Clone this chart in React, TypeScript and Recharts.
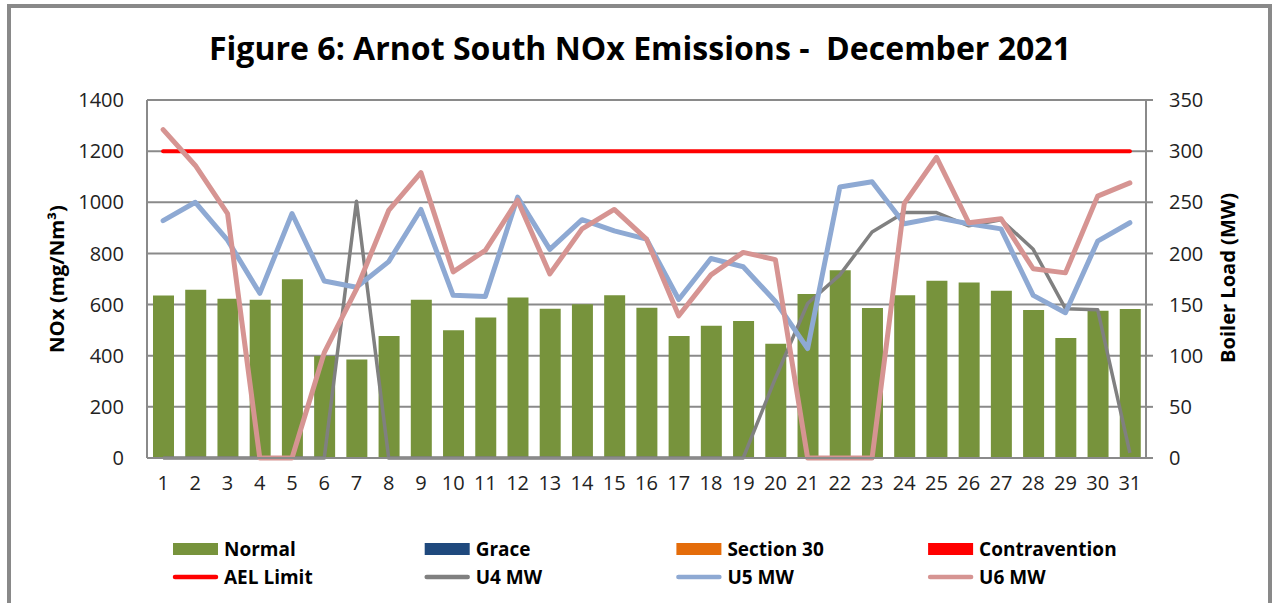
import { Bar, CartesianGrid, ComposedChart, Line, XAxis, YAxis } from "recharts";

const days = [1, 2, 3, 4, 5, 6, 7, 8, 9, 10, 11, 12, 13, 14, 15, 16, 17, 18, 19, 20, 21, 22, 23, 24, 25, 26, 27, 28, 29, 30, 31];

// NOx, mg/Nm3 (left axis)
const normal = [635, 658, 623, 619, 699, 399, 385, 477, 619, 500, 549, 628, 584, 601, 636, 588, 477, 517, 536, 447, 641, 734, 587, 636, 693, 686, 654, 579, 469, 576, 583];
const grace = [0, 0, 0, 0, 0, 0, 0, 0, 0, 0, 0, 0, 0, 0, 0, 0, 0, 0, 0, 0, 0, 0, 0, 0, 0, 0, 0, 0, 0, 0, 0];
const section30 = [0, 0, 0, 0, 0, 0, 0, 0, 0, 0, 0, 0, 0, 0, 0, 0, 0, 0, 0, 0, 0, 0, 0, 0, 0, 0, 0, 0, 0, 0, 0];
const contravention = [0, 0, 0, 0, 0, 0, 0, 0, 0, 0, 0, 0, 0, 0, 0, 0, 0, 0, 0, 0, 0, 0, 0, 0, 0, 0, 0, 0, 0, 0, 0];
const aelLimit = [1200, 1200, 1200, 1200, 1200, 1200, 1200, 1200, 1200, 1200, 1200, 1200, 1200, 1200, 1200, 1200, 1200, 1200, 1200, 1200, 1200, 1200, 1200, 1200, 1200, 1200, 1200, 1200, 1200, 1200, 1200];

// boiler load, MW (right axis)
const u4 = [0, 0, 0, 0, 0, 0, 251, 0, 0, 0, 0, 0, 0, 0, 0, 0, 0, 0, 0, 78, 151, 179, 221, 240, 240, 227, 233, 204, 146, 145, 5];
const u5 = [232, 250, 213, 161, 239, 173, 167, 192, 243, 159, 158, 255, 204, 233, 222, 214, 155, 195, 187, 153, 107, 265, 270, 229, 235, 229, 224, 159, 142, 212, 230];
const u6 = [321, 286, 239, 0, 0, 103, 165, 242, 279, 182, 203, 252, 180, 224, 243, 214, 139, 179, 201, 194, 0, 0, 0, 249, 294, 230, 234, 185, 181, 256, 269];

const noxTicks = [0, 200, 400, 600, 800, 1000, 1200, 1400];
const mwTicks = [0, 50, 100, 150, 200, 250, 300, 350];

const legendRows = [
  [
    { label: "Normal", color: "#77933C", kind: "rect" },
    { label: "Grace", color: "#1F497D", kind: "rect" },
    { label: "Section 30", color: "#E46C0A", kind: "rect" },
    { label: "Contravention", color: "#FF0000", kind: "rect" },
  ],
  [
    { label: "AEL Limit", color: "#FF0000", kind: "line" },
    { label: "U4 MW", color: "#808080", kind: "line" },
    { label: "U5 MW", color: "#8EA9D3", kind: "line" },
    { label: "U6 MW", color: "#D69492", kind: "line" },
  ],
];

const data = days.map((day, i) => ({
  day,
  normal: normal[i],
  grace: grace[i],
  section30: section30[i],
  contravention: contravention[i],
  ael: aelLimit[i],
  u4: u4[i],
  u5: u5[i],
  u6: u6[i],
}));

const FONT = "'Open Sans', sans-serif";
const GRID = "#8a8a8a";
const tickStyle = { fontSize: 20, fill: "#222", fontFamily: FONT };

export default function App() {
  return (
    <div style={{ position: "absolute", left: 0, top: 0, width: 1274, height: 603, background: "#fff", overflow: "hidden" }}>
      <div
        style={{
          position: "absolute",
          left: 7,
          top: 4,
          width: 1265,
          height: 599,
          boxSizing: "border-box",
          border: "4px solid #898989",
          borderBottom: "none",
        }}
      />
      <div style={{ position: "absolute", left: 0, top: 0 }}>
        <ComposedChart width={1274} height={603} data={data} margin={{ top: 100, right: 68, bottom: 115, left: 87 }}>
          <CartesianGrid yAxisId="left" vertical={false} stroke={GRID} strokeWidth={2} />
          <XAxis
            dataKey="day"
            height={30}
            tickLine={false}
            tickSize={0}
            tickMargin={18}
            interval={0}
            stroke={GRID}
            strokeWidth={2}
            tick={tickStyle}
          />
          <YAxis
            yAxisId="left"
            width={60}
            domain={[0, 1400]}
            ticks={noxTicks}
            tickLine={false}
            tickSize={0}
            tickMargin={23}
            stroke={GRID}
            strokeWidth={2}
            tick={tickStyle}
          />
          <YAxis
            yAxisId="right"
            orientation="right"
            width={60}
            domain={[0, 350]}
            ticks={mwTicks}
            tickSize={7}
            tickMargin={16}
            stroke={GRID}
            strokeWidth={2}
            tick={tickStyle}
          />
          <Bar yAxisId="left" dataKey="normal" stackId="nox" barSize={21} fill="#77933C" isAnimationActive={false} />
          <Bar yAxisId="left" dataKey="grace" stackId="nox" barSize={21} fill="#1F497D" isAnimationActive={false} />
          <Bar yAxisId="left" dataKey="section30" stackId="nox" barSize={21} fill="#E46C0A" isAnimationActive={false} />
          <Bar yAxisId="left" dataKey="contravention" stackId="nox" barSize={21} fill="#FF0000" isAnimationActive={false} />
          <Line yAxisId="left" dataKey="ael" stroke="#FF0000" strokeWidth={4} dot={false} strokeLinecap="round" isAnimationActive={false} />
          <Line yAxisId="right" dataKey="u4" stroke="#808080" strokeWidth={3.5} dot={false} strokeLinejoin="round" isAnimationActive={false} />
          <Line yAxisId="right" dataKey="u5" stroke="#8EA9D3" strokeWidth={5} dot={false} strokeLinejoin="round" strokeLinecap="round" isAnimationActive={false} />
          <Line yAxisId="right" dataKey="u6" stroke="#D69492" strokeWidth={5} dot={false} strokeLinejoin="round" strokeLinecap="round" isAnimationActive={false} />
        </ComposedChart>
      </div>
      <svg width={1274} height={603} style={{ position: "absolute", left: 0, top: 0, pointerEvents: "none" }}>
        <text
          x={209}
          y={60}
          fontFamily={FONT}
          fontWeight={700}
          fontSize={33}
          fill="#000"
          textLength={862}
          lengthAdjust="spacingAndGlyphs"
          style={{ whiteSpace: "pre" }}
        >
          {"Figure 6: Arnot South NOx Emissions -  December 2021"}
        </text>
        <text
          x={0}
          y={0}
          transform="translate(64 279) rotate(-90)"
          textAnchor="middle"
          fontFamily={FONT}
          fontWeight={700}
          fontSize={19}
          fill="#000"
          textLength={148}
          lengthAdjust="spacingAndGlyphs"
        >
          NOx (mg/Nm³)
        </text>
        <text
          x={0}
          y={0}
          transform="translate(1235 278) rotate(-90)"
          textAnchor="middle"
          fontFamily={FONT}
          fontWeight={700}
          fontSize={19}
          fill="#000"
          textLength={170}
          lengthAdjust="spacingAndGlyphs"
        >
          Boiler Load (MW)
        </text>
        {legendRows.map((row, r) =>
          row.map((item, c) => {
            const x = 173 + c * 251.7;
            const y = r === 0 ? 549 : 577;
            return (
              <g key={item.label}>
                {item.kind === "rect" ? (
                  <rect x={x} y={y - 6} width={45} height={12} fill={item.color} />
                ) : (
                  <line x1={x + 2} y1={y} x2={x + 43} y2={y} stroke={item.color} strokeWidth={4.5} strokeLinecap="round" />
                )}
                <text x={x + 51} y={y + 7} fontFamily={FONT} fontWeight={700} fontSize={19} fill="#000">
                  {item.label}
                </text>
              </g>
            );
          })
        )}
      </svg>
    </div>
  );
}
